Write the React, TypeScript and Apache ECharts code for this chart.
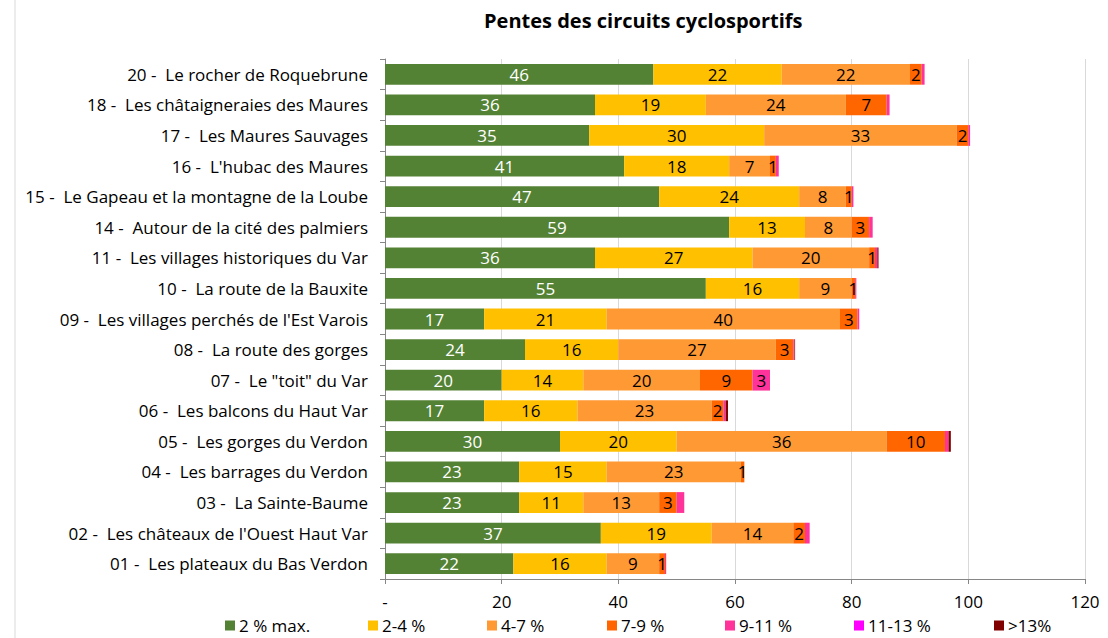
import React, { useEffect, useRef } from "react";
import * as echarts from "echarts";

const categories = [
  "01 -  Les plateaux du Bas Verdon",
  "02 -  Les châteaux de l'Ouest Haut Var",
  "03 -  La Sainte-Baume",
  "04 -  Les barrages du Verdon",
  "05 -  Les gorges du Verdon",
  "06 -  Les balcons du Haut Var",
  "07 -  Le \"toit\" du Var",
  "08 -  La route des gorges",
  "09 -  Les villages perchés de l'Est Varois",
  "10 -  La route de la Bauxite",
  "11 -  Les villages historiques du Var",
  "14 -  Autour de la cité des palmiers",
  "15 -  Le Gapeau et la montagne de la Loube",
  "16 -  L'hubac des Maures",
  "17 -  Les Maures Sauvages",
  "18 -  Les châtaigneraies des Maures",
  "20 -  Le rocher de Roquebrune",
];

const seriesNames = ["2 % max.", "2-4 %", "4-7 %", "7-9 %", "9-11 %", "11-13 %", ">13%"];

const slope0to2 = [22, 37, 23, 23, 30, 17, 20, 24, 17, 55, 36, 59, 47, 41, 35, 36, 46];
const slope2to4 = [16, 19, 11, 15, 20, 16, 14, 16, 21, 16, 27, 13, 24, 18, 30, 19, 22];
const slope4to7 = [9, 14, 13, 23, 36, 23, 20, 27, 40, 9, 20, 8, 8, 7, 33, 24, 22];
const slope7to9 = [1, 2, 3, 0.6, 10, 2, 9, 3, 3, 0.6, 1, 3, 1, 1, 2, 7, 2];
const slope9to11 = [0.2, 0.8, 1.3, 0, 0.6, 0.4, 3, 0.2, 0.3, 0.2, 0.4, 0.6, 0.3, 0.5, 0.3, 0.5, 0.5];
const slope11to13 = [0, 0, 0, 0, 0, 0, 0, 0, 0, 0, 0, 0, 0, 0, 0, 0, 0];
const slopeOver13 = [0, 0, 0, 0, 0.4, 0.4, 0, 0.1, 0, 0, 0.2, 0, 0, 0, 0, 0, 0];

const xTicks = [0, 20, 40, 60, 80, 100, 120];

const seriesData = [slope0to2, slope2to4, slope4to7, slope7to9, slope9to11, slope11to13, slopeOver13];
const colors = ["#548235", "#FFC000", "#FF9933", "#FF6600", "#FF3399", "#FF00FF", "#800000"];
const labelColors = ["#ffffff", "#000000", "#000000", "#000000", "#000000", "#000000", "#000000"];
const labelMin = [0.5, 0.5, 0.5, 0.5, 2, 2, 2];
const legendLefts = [225, 368, 487, 607, 725, 854, 994];

const FONT = "Open Sans";
const FS = 17;

export default function App() {
  const ref = useRef<HTMLDivElement>(null);
  useEffect(() => {
    if (!ref.current) return;
    const chart = echarts.init(ref.current, null, { renderer: "svg" });
    chart.setOption({
      animation: false,
      backgroundColor: "#ffffff",
      textStyle: { fontFamily: FONT },
      title: {
        text: "Pentes des circuits cyclosportifs",
        left: 479,
        top: 5,
        textStyle: { fontFamily: FONT, fontSize: 20, fontWeight: "bold", color: "#000" },
      },
      graphic: [
        {
          type: "line",
          shape: { x1: 15, y1: 0, x2: 15, y2: 638 },
          style: { stroke: "#d9d9d9", lineWidth: 1 },
        },
      ],
      legend: seriesNames.map((name, i) => ({
        data: [name],
        left: legendLefts[i],
        top: 617,
        padding: 0,
        itemWidth: 10,
        itemHeight: 10,
        itemGap: 0,
        icon: "rect",
        textStyle: {
          fontFamily: FONT,
          fontSize: 17,
          lineHeight: 17,
          color: "#000",
          padding: [0, 0, 0, -1],
        },
      })),
      grid: { left: 385, right: 23, top: 59, bottom: 59, containLabel: false },
      xAxis: {
        type: "value",
        min: xTicks[0],
        max: xTicks[xTicks.length - 1],
        interval: 20,
        axisLine: { show: true, lineStyle: { color: "#868686" } },
        axisTick: { show: true, length: 5, lineStyle: { color: "#868686" } },
        splitLine: { show: true, lineStyle: { color: "#d9d9d9" } },
        axisLabel: {
          fontFamily: FONT,
          fontSize: FS,
          color: "#000",
          margin: 14,
          formatter: (v: number) => (v === 0 ? "-" : String(v)),
        },
      },
      yAxis: {
        type: "category",
        data: categories,
        axisLine: { show: true, lineStyle: { color: "#868686" } },
        axisTick: { show: true, length: 5, lineStyle: { color: "#868686" } },
        axisLabel: { fontFamily: FONT, fontSize: FS, color: "#000", margin: 17 },
      },
      series: seriesNames.map((name, i) => ({
        name,
        type: "bar",
        stack: "total",
        barWidth: "68%",
        data: seriesData[i],
        itemStyle: { color: colors[i] },
        label: {
          show: true,
          position: "inside",
          fontFamily: FONT,
          fontSize: FS,
          color: labelColors[i],
          formatter: (p: any) => (p.value >= labelMin[i] ? String(Math.round(p.value)) : ""),
        },
      })),
    });
    return () => chart.dispose();
  }, []);
  return (
    <div
      ref={ref}
      style={{ position: "fixed", left: 0, top: 0, width: 1108, height: 638 }}
    />
  );
}
